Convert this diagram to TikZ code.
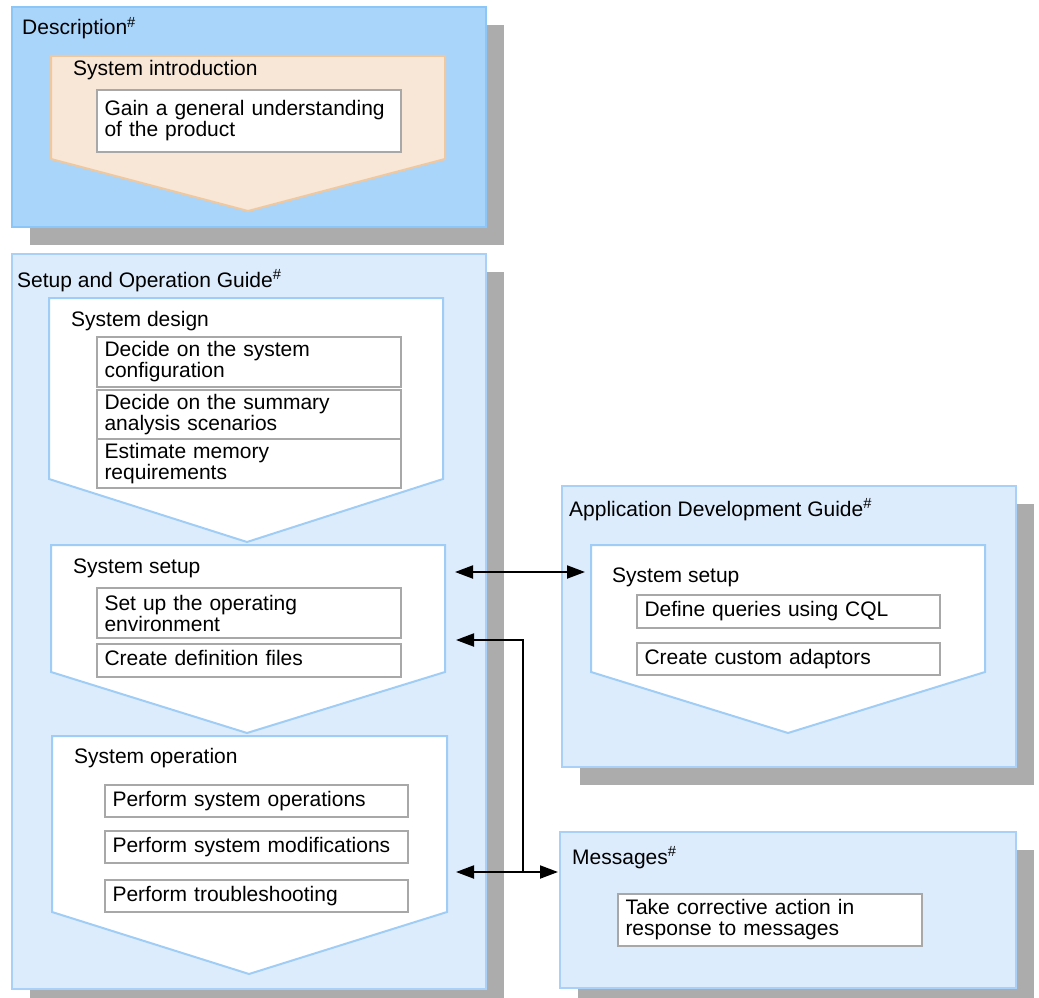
\documentclass[tikz,border=0pt]{standalone}
\usepackage{fontspec}
\setmainfont{Liberation Sans}
\usetikzlibrary{arrows.meta,shadows}

\definecolor{descfill}{RGB}{170,213,251}
\definecolor{descline}{RGB}{140,198,248}
\definecolor{guidefill}{RGB}{220,236,252}
\definecolor{guideline}{RGB}{168,208,248}
\definecolor{stepline}{RGB}{160,205,245}
\definecolor{peachfill}{RGB}{248,230,214}
\definecolor{peachline}{RGB}{240,200,160}
\definecolor{shadowgray}{RGB}{172,172,172}
\definecolor{taskline}{RGB}{168,168,168}

\newcommand\fs{\fontsize{21}{21}\selectfont}
\newcommand\hashmark{\textsuperscript{\#}}

\tikzset{
  guide/.style={draw=guideline, fill=guidefill, line width=2pt, anchor=north west,
    inner sep=0pt, drop shadow={shadow xshift=18pt, shadow yshift=-18pt, fill=shadowgray, opacity=1}},
  stepshape/.style={draw=stepline, fill=white, line width=2pt},
  task/.style={draw=taskline, fill=white, line width=2pt, anchor=north west,
    inner xsep=7.5pt, inner ysep=0pt, align=left, font=\fs},
  oneline/.style={text height=15pt, text depth=5pt},
  label/.style={anchor=base west, inner sep=0pt, font=\fs},
  link/.style={line width=2pt, black},
  linktip/.tip={Triangle[length=18pt, width=13pt]}
}

\begin{document}
\begin{tikzpicture}[x=1pt, y=-1pt]
\useasboundingbox (0,0) rectangle (1039,998);

% --- containers with shadows ---
\node[guide, draw=descline, fill=descfill, minimum width=474pt, minimum height=220pt] (desc) at (11,6) {};
\node[guide, minimum width=474pt, minimum height=735pt] (setupguide) at (11,253) {};
\node[guide, minimum width=454pt, minimum height=281pt] (appguide) at (561,485) {};
\node[guide, minimum width=456pt, minimum height=156pt] (msgguide) at (559,831) {};

% --- container titles ---
\node[label] (descT) at (22,35) {Description\hashmark};
\node[label] (setupT) at (17,287) {Setup and Operation Guide\hashmark};
\node[label] (appT) at (569,516) {Application Development Guide\hashmark};
\node[label] (msgT) at (572,864) {Messages\hashmark};

% --- step pentagons ---
\draw[line width=2pt, draw=peachline, fill=peachfill]
  (51,56) -- (445,56) -- (445,159) -- (248,211) -- (51,159) -- cycle;
\draw[stepshape] (49,298) -- (443,298) -- (443,479) -- (247,542) -- (49,479) -- cycle;
\draw[stepshape] (51,545) -- (445,545) -- (445,672) -- (247,733) -- (51,672) -- cycle;
\draw[stepshape] (52,736) -- (447,736) -- (447,912) -- (249,974) -- (52,912) -- cycle;
\draw[stepshape] (591,545) -- (985,545) -- (985,672) -- (788,733) -- (591,672) -- cycle;

% --- step titles ---
\node[label] (introT) at (73,76) {System introduction};
\node[label] (designT) at (71,326) {System design};
\node[label] (sysT) at (73,573) {System setup};
\node[label] (opT) at (74,763) {System operation};
\node[label] (appsysT) at (612,582) {System setup};

% --- tasks ---
\node[task, text width=289pt, minimum height=62pt] (gain) at (96,89)
  {Gain a general understanding\\of the product};

\node[task, text width=289pt, minimum height=50pt] (cfg) at (96,336)
  {Decide on the system\\configuration};
\node[task, text width=289pt, minimum height=49pt] (scen) at (96,389)
  {Decide on the summary\\analysis scenarios};
\node[task, text width=289pt, minimum height=49pt] (mem) at (96,438)
  {Estimate memory\\requirements};

\node[task, text width=289pt, minimum height=50pt] (env) at (96,587)
  {Set up the operating\\environment};
\node[task, oneline, text width=289pt, minimum height=33pt] (defs) at (96,643)
  {Create definition files};

\node[task, oneline, text width=288pt, minimum height=32pt] (ops) at (104,784)
  {Perform system operations};
\node[task, oneline, text width=288pt, minimum height=32pt] (mods) at (104,830)
  {Perform system modifications};
\node[task, oneline, text width=288pt, minimum height=32pt] (trbl) at (104,879)
  {Perform troubleshooting};

\node[task, oneline, text width=288pt, minimum height=33pt] (cql) at (636,594)
  {Define queries using CQL};
\node[task, oneline, text width=288pt, minimum height=32pt] (adp) at (636,642)
  {Create custom adaptors};

\node[task, text width=289pt, minimum height=52pt] (corr) at (617,893)
  {Take corrective action in\\response to messages};

% --- connector ends ---
\coordinate (setupA) at (455,572);
\coordinate (appA) at (585,572);
\coordinate (setupB) at (456,640);
\coordinate (join) at (523,872);
\coordinate (opA) at (456,872);
\coordinate (msgA) at (558,872);

% --- connectors ---
\draw[link, {linktip}-{linktip}] (setupA) -- (appA);
\draw[link, -{linktip}] (join) |- (setupB);
\draw[link, {linktip}-{linktip}] (opA) -- (msgA);
\end{tikzpicture}
\end{document}
